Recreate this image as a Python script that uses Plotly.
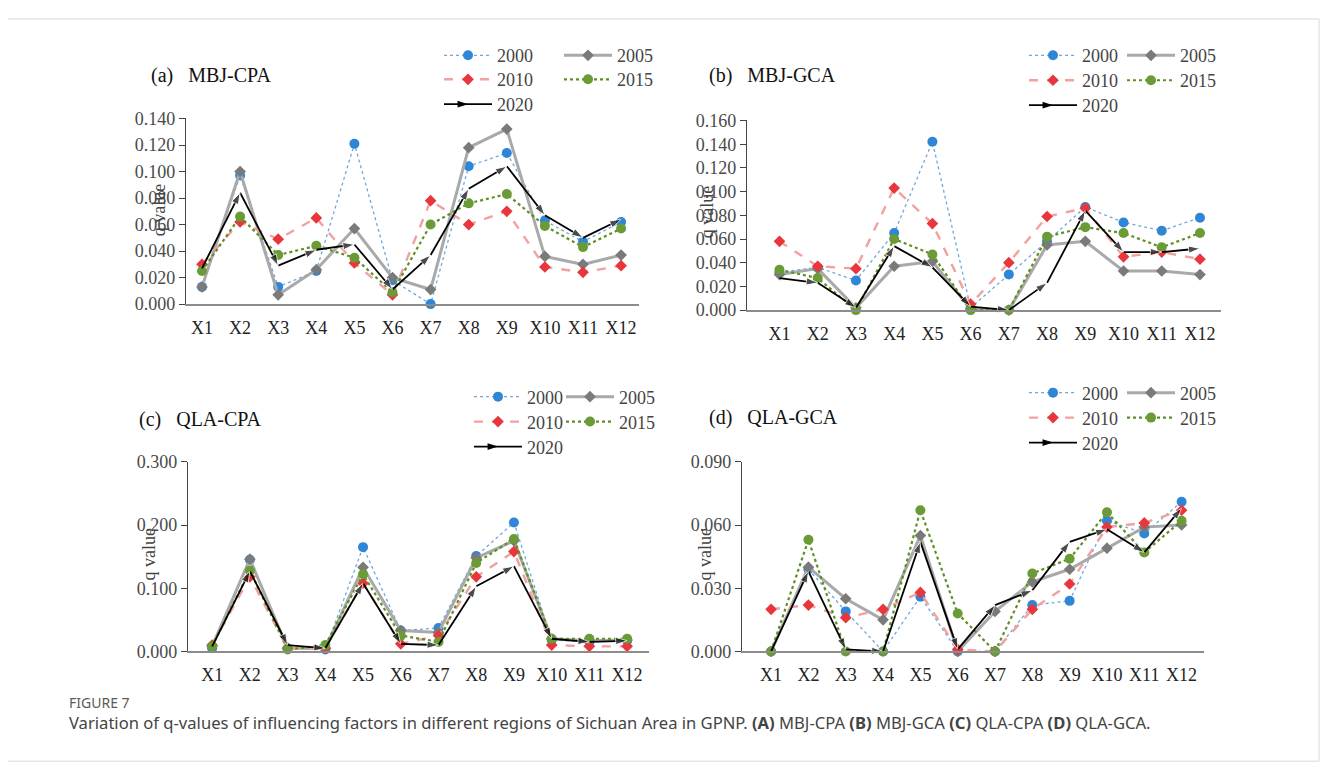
import plotly.graph_objects as go

W, H = 1328, 770

factors = ["X1", "X2", "X3", "X4", "X5", "X6", "X7", "X8", "X9", "X10", "X11", "X12"]
years = ["2000", "2005", "2010", "2015", "2020"]

# (a) MBJ-CPA
a_2000 = [0.013, 0.097, 0.013, 0.025, 0.121, 0.018, 0.000, 0.104, 0.114, 0.063, 0.047, 0.062]
a_2005 = [0.013, 0.100, 0.007, 0.026, 0.057, 0.020, 0.011, 0.118, 0.132, 0.036, 0.030, 0.037]
a_2010 = [0.030, 0.062, 0.049, 0.065, 0.031, 0.007, 0.078, 0.060, 0.070, 0.028, 0.024, 0.029]
a_2015 = [0.025, 0.066, 0.037, 0.044, 0.035, 0.009, 0.060, 0.076, 0.083, 0.059, 0.043, 0.057]
a_2020 = [0.027, 0.084, 0.029, 0.041, 0.045, 0.011, 0.037, 0.087, 0.104, 0.067, 0.050, 0.064]

# (b) MBJ-GCA
b_2000 = [0.032, 0.036, 0.025, 0.065, 0.142, 0.002, 0.030, 0.058, 0.087, 0.074, 0.067, 0.078]
b_2005 = [0.030, 0.035, 0.002, 0.037, 0.041, 0.001, 0.000, 0.055, 0.058, 0.033, 0.033, 0.030]
b_2010 = [0.058, 0.037, 0.035, 0.103, 0.073, 0.005, 0.040, 0.079, 0.086, 0.045, 0.049, 0.043]
b_2015 = [0.034, 0.027, 0.000, 0.060, 0.047, 0.000, 0.000, 0.062, 0.070, 0.065, 0.053, 0.065]
b_2020 = [0.027, 0.023, 0.002, 0.054, 0.036, 0.003, 0.000, 0.023, 0.084, 0.049, 0.049, 0.052]

# (c) QLA-CPA
c_2000 = [0.005, 0.145, 0.005, 0.003, 0.165, 0.033, 0.037, 0.151, 0.204, 0.018, 0.015, 0.017]
c_2005 = [0.008, 0.146, 0.005, 0.005, 0.133, 0.033, 0.030, 0.148, 0.175, 0.020, 0.017, 0.018]
c_2010 = [0.010, 0.118, 0.005, 0.005, 0.108, 0.012, 0.025, 0.118, 0.158, 0.010, 0.008, 0.008]
c_2015 = [0.008, 0.128, 0.003, 0.010, 0.122, 0.025, 0.015, 0.140, 0.178, 0.020, 0.020, 0.020]
c_2020 = [0.008, 0.127, 0.010, 0.005, 0.108, 0.012, 0.010, 0.103, 0.135, 0.020, 0.015, 0.017]

# (d) QLA-GCA
d_2000 = [0.000, 0.039, 0.019, 0.000, 0.026, 0.000, 0.000, 0.022, 0.024, 0.062, 0.056, 0.071]
d_2005 = [0.000, 0.040, 0.025, 0.015, 0.055, 0.000, 0.019, 0.033, 0.039, 0.049, 0.059, 0.060]
d_2010 = [0.020, 0.022, 0.016, 0.020, 0.028, 0.001, 0.000, 0.020, 0.032, 0.059, 0.061, 0.067]
d_2015 = [0.000, 0.053, 0.000, 0.000, 0.067, 0.018, 0.000, 0.037, 0.044, 0.066, 0.047, 0.062]
d_2020 = [0.000, 0.038, 0.001, 0.000, 0.052, 0.001, 0.022, 0.029, 0.052, 0.058, 0.047, 0.068]

# layout boxes are given in target-picture pixels; X()/Y() convert to figure pixels
panels = [
    dict(title="(a)   MBJ-CPA", series=[a_2000, a_2005, a_2010, a_2015, a_2020],
         ymax=0.14, dtick=0.02, box=(187, 640, 118, 304), xr=(-0.42, 11.47),
         title_xy=(150, 75), qx=160, qy=210,
         leg_cols=(445, 565), leg_rows=(55, 79, 104)),
    dict(title="(b)   MBJ-GCA", series=[b_2000, b_2005, b_2010, b_2015, b_2020],
         ymax=0.16, dtick=0.02, box=(748, 1222, 120, 310), xr=(-0.85, 11.55),
         title_xy=(708, 75), qx=708, qy=212,
         leg_cols=(1030, 1128), leg_rows=(55, 80, 105)),
    dict(title="(c)   QLA-CPA", series=[c_2000, c_2005, c_2010, c_2015, c_2020],
         ymax=0.30, dtick=0.1, box=(189, 650, 462, 652), xr=(-0.64, 11.58),
         title_xy=(138, 420), qx=150, qy=555,
         leg_cols=(475, 567), leg_rows=(397, 422, 447)),
    dict(title="(d)   QLA-GCA", series=[d_2000, d_2005, d_2010, d_2015, d_2020],
         ymax=0.09, dtick=0.03, box=(743, 1205, 462, 652), xr=(-0.78, 11.6),
         title_xy=(708, 418), qx=706, qy=555,
         leg_cols=(1030, 1128), leg_rows=(393, 418, 443)),
]

styles = [
    dict(line=dict(color="#6fa8dc", width=1.3, dash="dot"),
         marker=dict(symbol="circle", size=10, color="#2f86d6")),
    dict(line=dict(color="#a9a9a9", width=3, dash="solid"),
         marker=dict(symbol="diamond", size=9, color="#7a7a7a")),
    dict(line=dict(color="#f3a0a0", width=2.4, dash="dash"),
         marker=dict(symbol="diamond", size=9, color="#e8363c")),
    dict(line=dict(color="#5f8f22", width=2.2, dash="dot"),
         marker=dict(symbol="circle", size=10, color="#6b9b37")),
    dict(line=dict(color="#000000", width=1.8, dash="solid"),
         marker=dict(symbol="arrow", size=12, color="#000000", angleref="previous")),
]
slots = [(0, 0), (1, 0), (0, 1), (1, 1), (0, 2)]

SERIF = "Liberation Serif"


def X(x):
    return x - 9


def Y(y):
    return (y - 17.3) / 0.976


def px(x):
    return X(x) / W


def py(y):
    return 1 - Y(y) / H


fig = go.Figure()
layout = dict(width=W, height=H, margin=dict(l=0, r=0, t=0, b=0),
              paper_bgcolor="white", plot_bgcolor="white",
              font=dict(family=SERIF, size=18, color="#333333"),
              annotations=[], shapes=[])

leg_id = 0
xs = list(range(len(factors)))
for i, p in enumerate(panels):
    k = "" if i == 0 else str(i + 1)
    x0, x1, y0, y1 = p["box"]
    layout["xaxis" + k] = dict(domain=[px(x0), px(x1)], range=list(p["xr"]),
                               anchor="y" + k, tickmode="array", tickvals=xs, ticktext=factors,
                               showline=True, linecolor="#8c8c8c", linewidth=1.6,
                               ticks="", showgrid=False, zeroline=False,
                               ticklabelstandoff=6,
                               tickfont=dict(family=SERIF, size=18, color="#222222"))
    layout["yaxis" + k] = dict(domain=[py(y1), py(y0)], range=[0, p["ymax"]],
                               anchor="x" + k, dtick=p["dtick"], tick0=0, tickformat=".3f",
                               showline=True, linecolor="#444444", linewidth=1.3,
                               ticks="outside", ticklen=6, tickcolor="#444444",
                               showgrid=False, zeroline=False,
                               tickfont=dict(family=SERIF, size=18, color="#4a4a4a"))
    for j, (yr, vals) in enumerate(zip(years, p["series"])):
        leg_id += 1
        lname = "legend" if leg_id == 1 else "legend%d" % leg_id
        st = styles[j]
        marker = dict(st["marker"])
        if j == 4:
            marker["size"] = [0] + [12] * (len(vals) - 1)
        fig.add_trace(go.Scatter(x=xs, y=vals, name=yr, mode="lines+markers",
                                 line=st["line"], marker=marker,
                                 xaxis="x" + k, yaxis="y" + k,
                                 legend=lname, showlegend=(j != 4), cliponaxis=False))
        if j == 4:
            fig.add_trace(go.Scatter(x=[None], y=[None], name=yr, mode="lines+markers",
                                     line=st["line"],
                                     marker=dict(symbol="arrow", size=11, color="#000000", angle=90),
                                     xaxis="x" + k, yaxis="y" + k, legend=lname, showlegend=True))
        c, r = slots[j]
        layout[lname] = dict(x=px(p["leg_cols"][c] - 5), y=py(p["leg_rows"][r]),
                             xanchor="left", yanchor="middle", orientation="v",
                             bgcolor="rgba(0,0,0,0)", borderwidth=0, itemwidth=48,
                             font=dict(family=SERIF, size=18, color="#444444"),
                             itemclick=False, itemdoubleclick=False)
    tx, ty = p["title_xy"]
    layout["annotations"].append(dict(text=p["title"], x=px(tx), y=py(ty), xref="paper", yref="paper",
                                      xanchor="left", yanchor="middle", showarrow=False,
                                      font=dict(family=SERIF, size=20, color="#111111")))
    layout["annotations"].append(dict(text="q value", x=px(p["qx"]), y=py(p["qy"]), xref="paper",
                                      yref="paper", xanchor="center", yanchor="middle",
                                      showarrow=False, textangle=-90,
                                      font=dict(family=SERIF, size=18, color="#444444")))

layout["annotations"].append(dict(text="FIGURE 7", x=px(68), y=py(703), xref="paper", yref="paper",
                                  xanchor="left", yanchor="middle", showarrow=False,
                                  font=dict(family="Noto Sans", size=14, color="#5a5a5a")))
layout["annotations"].append(dict(
    text="Variation of q-values of influencing factors in different regions of Sichuan Area in GPNP. "
         "<b>(A)</b> MBJ-CPA <b>(B)</b> MBJ-GCA <b>(C)</b> QLA-CPA <b>(D)</b> QLA-GCA.",
    x=px(68), y=py(723), xref="paper", yref="paper", xanchor="left", yanchor="middle",
    showarrow=False, font=dict(family="Noto Sans", size=16.6, color="#444444")))

layout["shapes"].append(dict(type="rect", xref="paper", yref="paper",
                             x0=px(8), x1=px(1320), y0=py(762), y1=1 - 1 / H,
                             line=dict(color="#d9d9d9", width=1), fillcolor="rgba(0,0,0,0)"))

fig.update_layout(**layout)
fig.write_html("out.html")
